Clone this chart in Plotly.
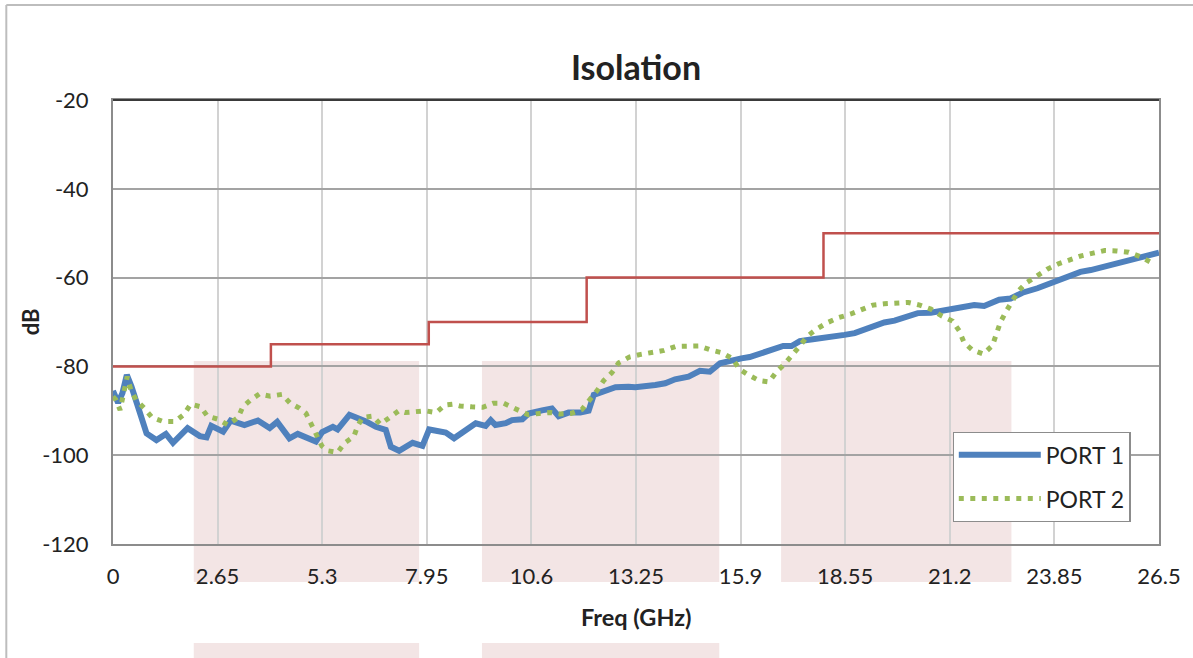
import plotly.graph_objects as go

# ---------------- data ----------------
x_ticks = [0, 2.65, 5.3, 7.95, 10.6, 13.25, 15.9, 18.55, 21.2, 23.85, 26.5]
x_tick_labels = ["0", "2.65", "5.3", "7.95", "10.6", "13.25", "15.9", "18.55", "21.2", "23.85", "26.5"]
y_ticks = [-20, -40, -60, -80, -100, -120]
y_tick_labels = ["-20", "-40", "-60", "-80", "-100", "-120"]

limit_freq = [0, 4, 8, 12, 18, 26.5]
limit_db = [-80, -75, -70, -60, -50, -50]

port1_freq = [0.0, 0.13, 0.24, 0.35, 0.47, 0.64, 0.85, 1.10, 1.34, 1.52, 1.89, 2.20, 2.37, 2.49,
              2.79, 2.98, 3.33, 3.67, 3.97, 4.16, 4.47, 4.68, 5.14, 5.30, 5.57, 5.69, 5.99, 6.41,
              6.66, 6.91, 7.04, 7.25, 7.59, 7.84, 8.01, 8.43, 8.64, 9.19, 9.44, 9.57, 9.69, 9.95,
              10.11, 10.37, 10.53, 10.87, 11.12, 11.29, 11.54, 11.84, 12.05, 12.18, 12.39, 12.73,
              13.06, 13.23, 13.74, 13.99, 14.24, 14.58, 14.87, 15.12, 15.38, 15.67, 15.92, 16.13,
              16.47, 16.77, 16.98, 17.19, 17.40, 17.73, 18.28, 18.53, 18.79, 19.04, 19.29, 19.54,
              19.80, 20.05, 20.39, 20.72, 21.06, 21.40, 21.82, 22.07, 22.45, 22.74, 23.04, 23.42,
              23.84, 24.18, 24.51, 24.77, 25.10, 25.36, 25.78, 26.12, 26.50]
port1_db = [-85.5, -88.2, -86.0, -81.9, -84.6, -89.8, -95.1, -96.6, -95.2, -97.2, -93.9, -95.7, -96.0, -93.4,
            -94.7, -92.2, -93.2, -92.2, -93.9, -92.5, -96.2, -95.2, -96.9, -94.8, -93.6, -94.2, -90.9, -92.4,
            -93.6, -94.3, -98.1, -99.0, -97.2, -97.9, -94.2, -94.9, -96.2, -92.8, -93.4, -92.1, -93.2, -92.8,
            -92.1, -91.9, -90.6, -89.9, -89.5, -91.2, -90.4, -90.4, -90.0, -86.4, -85.7, -84.7,
            -84.6, -84.7, -84.2, -83.8, -82.9, -82.3, -81.0, -81.2, -79.3, -78.6, -78.2, -77.9,
            -77.0, -76.3, -75.4, -75.4, -74.3, -73.9, -73.4, -72.9, -72.5, -71.6, -70.7, -70.1,
            -69.7, -68.9, -68.0, -67.9, -67.4, -67.0, -66.2, -66.4, -65.0, -64.7, -63.4, -62.4,
            -60.9, -59.9, -58.7, -58.3, -57.5, -57.2, -56.2, -55.3, -54.4]

port2_freq = [0.0, 0.07, 0.18, 0.24, 0.29, 0.36, 0.45, 0.58, 0.79, 0.99, 1.27, 1.57, 1.80, 1.97, 2.22,
              2.39, 2.66, 2.91, 3.17, 3.29, 3.48, 3.71, 3.98, 4.28, 4.49, 4.72, 4.89, 5.02, 5.19, 5.29,
              5.44, 5.69, 5.86, 6.10, 6.20, 6.32, 6.58, 6.77, 6.98, 7.24, 7.40, 7.61, 7.91, 8.19, 8.41,
              8.60, 8.79, 9.09, 9.37, 9.63, 9.90, 10.16, 10.32, 10.52, 10.80, 11.08, 11.32, 11.60, 11.88,
              12.08, 12.26, 12.43, 12.64, 12.81, 13.08, 13.37, 13.67, 13.96, 14.26, 14.56, 14.85, 15.14,
              15.42, 15.69, 15.87, 16.11, 16.37, 16.62, 16.81, 17.02, 17.22, 17.41, 17.59, 17.84, 18.11,
              18.39, 18.69, 18.97, 19.25, 19.54, 19.86, 20.15, 20.44, 20.72, 20.99, 21.27, 21.44, 21.56,
              21.77, 22.05, 22.28, 22.38, 22.48, 22.62, 22.77, 22.94, 23.15, 23.42, 23.67, 23.95, 24.23,
              24.53, 24.83, 25.12, 25.42, 25.73, 26.03, 26.30]
port2_db = [-86.8, -87.5, -89.8, -87.2, -84.4, -82.3, -85.2, -87.5, -89.4, -91.5, -92.4, -92.4, -90.8, -88.5, -89.1,
            -91.2, -91.9, -93.2, -91.5, -89.1, -87.6, -86.2, -86.7, -86.3, -88.3, -89.4, -90.6, -93.0, -95.5, -97.9,
            -99.0, -99.4, -97.3, -95.8, -93.4, -91.5, -91.2, -93.0, -91.7, -90.0, -90.4, -90.2, -90.0, -90.4, -88.7,
            -88.5, -88.9, -89.1, -89.2, -88.3, -88.3, -89.4, -90.0, -90.9, -90.6, -90.4, -90.7, -90.6, -89.7,
            -87.6, -85.5, -83.2, -81.4, -79.2, -77.9, -77.3, -76.8, -76.4, -75.5, -75.5, -75.4, -76.3,
            -76.9, -78.2, -80.6, -82.0, -83.2, -83.5, -81.2, -79.4, -77.4, -75.3, -73.2, -71.5, -70.1,
            -69.0, -68.2, -67.1, -66.2, -65.9, -65.8, -65.6, -66.2, -67.1, -68.6, -69.8, -72.0, -74.6,
            -76.3, -77.2, -75.3, -72.8, -70.1, -67.7, -65.4, -63.0, -61.1, -59.6, -58.1, -56.9, -56.0,
            -55.1, -54.5, -53.9, -54.0, -54.3, -55.3, -56.6]

# ---------------- figure ----------------
W, H = 1193, 658
L, R, T, B = 113, 31, 100, 114
pw, ph = W - L - R, H - T - B


def px_x(p):
    return (p - L) / pw


def px_y(p):
    return (H - B - p) / ph


FONT = "Lato, 'Open Sans', sans-serif"
TXT = "#222222"

fig = go.Figure()

fig.add_trace(go.Scatter(x=limit_freq, y=limit_db, mode="lines", line_shape="hv",
                         line=dict(color="#C0504D", width=2.5), showlegend=False, hoverinfo="skip"))
fig.add_trace(go.Scatter(x=port1_freq, y=port1_db, mode="lines", name="PORT 1", legendgroup="p1",
                         line=dict(color="#4F81BD", width=6)))
fig.add_trace(go.Scatter(x=port2_freq, y=port2_db, mode="lines", name="PORT 2", legendgroup="p2",
                         line=dict(color="#9BBB59", width=5, dash="5px,6.5px")))

shapes = []
pink = "#F3E5E5"
for x0, x1 in [(194, 420), (483, 721), (783, 1014)]:
    shapes.append(dict(type="rect", xref="paper", yref="paper", x0=px_x(x0), x1=px_x(x1),
                       y0=px_y(582), y1=px_y(361), fillcolor=pink, line_width=0, layer="below"))
for x0, x1 in [(194, 420), (483, 721)]:
    shapes.append(dict(type="rect", xref="paper", yref="paper", x0=px_x(x0), x1=px_x(x1),
                       y0=px_y(670), y1=px_y(643), fillcolor=pink, line_width=0, layer="below"))
# outer frame
shapes.append(dict(type="line", xref="paper", yref="paper", x0=px_x(6), x1=px_x(1200),
                   y0=px_y(5), y1=px_y(5), line=dict(color="#BDBDBD", width=2)))
shapes.append(dict(type="line", xref="paper", yref="paper", x0=px_x(6), x1=px_x(6),
                   y0=px_y(5), y1=px_y(700), line=dict(color="#BDBDBD", width=2)))
# dark top border
shapes.append(dict(type="line", xref="paper", yref="paper", x0=0, x1=1, y0=1, y1=1,
                   line=dict(color="#3A3A3A", width=2.2)))

fig.update_layout(
    width=W, height=H,
    margin=dict(l=L, r=R, t=T, b=B),
    paper_bgcolor="white", plot_bgcolor="white",
    font=dict(family=FONT, size=22, color=TXT),
    title=dict(text="<b>Isolation</b>", x=0.5, xref="paper", xanchor="center",
               y=1 - 68 / H, yref="container", yanchor="middle",
               font=dict(family=FONT, size=34, color=TXT)),
    shapes=shapes,
    showlegend=True,
    legend=dict(x=px_x(955), y=px_y(432), xanchor="left", yanchor="top",
                bgcolor="white", bordercolor="#8C8C8C", borderwidth=1.2,
                font=dict(family=FONT, size=23, color=TXT),
                traceorder="grouped", tracegroupgap=11, itemwidth=82),
    annotations=[
        dict(text="<b>dB</b>", xref="paper", yref="paper", x=px_x(30), y=px_y(322),
             textangle=-90, showarrow=False, font=dict(family=FONT, size=22, color=TXT),
             xanchor="center", yanchor="middle"),
        dict(text="<b>Freq (GHz)</b>", xref="paper", yref="paper", x=0.5, y=px_y(617),
             showarrow=False, font=dict(family=FONT, size=23.5, color=TXT),
             xanchor="center", yanchor="middle"),
    ],
)

fig.update_xaxes(range=[0, 26.5], tickmode="array", tickvals=x_ticks, ticktext=x_tick_labels,
                 showgrid=True, gridcolor="#D2D2D2", gridwidth=2,
                 showline=True, linecolor="#8C8C8C", linewidth=2, mirror=True,
                 ticks="", ticklabelstandoff=12, zeroline=False)
fig.update_yaxes(range=[-120, -20], tickmode="array", tickvals=y_ticks, ticktext=y_tick_labels,
                 showgrid=True, gridcolor="#A3A3A3", gridwidth=1.6,
                 showline=True, linecolor="#8C8C8C", linewidth=2, mirror=True,
                 ticks="", ticklabelstandoff=18, zeroline=False)

fig.write_html("out.html", config={"displayModeBar": False},
               post_script="document.body.style.margin='0';")
